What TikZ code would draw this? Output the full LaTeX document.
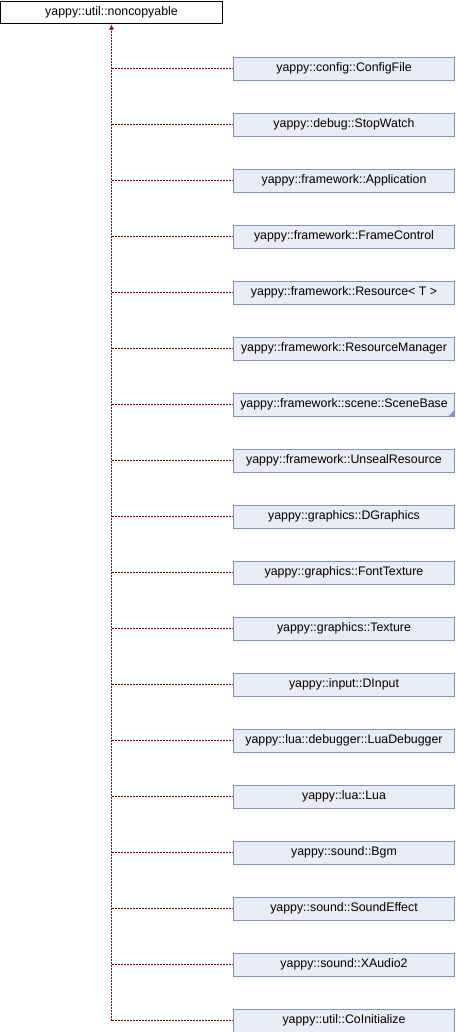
\documentclass[tikz,border=0pt]{standalone}
\usepackage{fontspec}
\setmainfont{Liberation Sans}
\usetikzlibrary{arrows.meta}
\definecolor{boxfill}{HTML}{E8ECF5}
\definecolor{boxline}{HTML}{7C95C6}
\definecolor{edge}{HTML}{A00000}
\begin{document}
\begin{tikzpicture}[x=1bp,y=-1bp,
  base/.style={draw=black,fill=white,line width=1bp,minimum width=221bp,minimum height=22bp,inner sep=0pt,font=\fontsize{12.4}{14}\selectfont},
  child/.style={draw=boxline,fill=boxfill,line width=1bp,minimum width=221bp,minimum height=23bp,inner sep=0pt,font=\fontsize{12.4}{14}\selectfont},
  edgeline/.style={draw=edge,line width=1bp,dash pattern=on 2bp off 1bp},
  inh/.style={edgeline,-{Latex[length=5bp,width=5bp]}}]
\useasboundingbox (0,0) rectangle (456,1032);
\node[base] (root) at (111.5,12) {yappy::util::noncopyable};
\foreach \i/\t in {0/config::ConfigFile,1/debug::StopWatch,2/framework::Application,3/framework::FrameControl,4/{framework::Resource< T >},5/framework::ResourceManager,6/framework::scene::SceneBase,7/framework::UnsealResource,8/graphics::DGraphics,9/graphics::FontTexture,10/graphics::Texture,11/input::DInput,12/lua::debugger::LuaDebugger,13/lua::Lua,14/sound::Bgm,15/sound::SoundEffect,16/sound::XAudio2,17/util::CoInitialize}{
  \node[child] (c\i) at (344,68.5+56*\i) {yappy::\t};
  \coordinate (k\i) at (111.5,68.5+56*\i);
}
\fill[boxline] (c6.south east) ++(-0.5,-0.5) -- ++(-6,0) -- ++(6,-6) -- cycle;
\draw[inh] (k17) -- ([yshift=-1bp]root.south);
\foreach \i in {0,...,17}{
  \draw[edgeline] (k\i) -- (c\i.west);
}
\end{tikzpicture}
\end{document}
